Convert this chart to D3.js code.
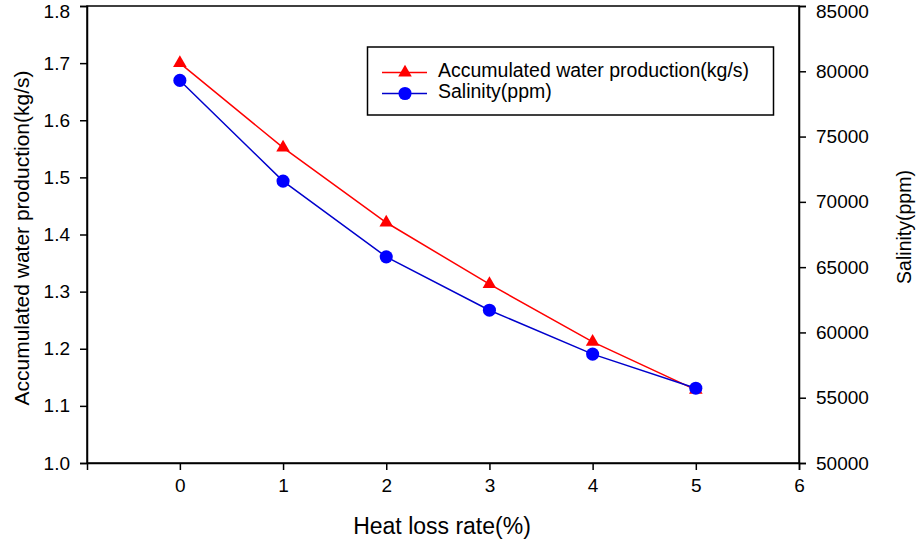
<!DOCTYPE html>
<html><head><meta charset="utf-8">
<script src="https://cdn.jsdelivr.net/npm/d3@7/dist/d3.min.js"></script>
<style>body{margin:0;background:#fff}svg{display:block}text{font-family:"Liberation Sans",Arial,sans-serif;fill:#000}</style>
</head><body><svg id="c" width="918" height="539"></svg>
<script>
const heatLoss = [0, 1, 2, 3, 4, 5];
const waterProduction = [1.70, 1.552, 1.421, 1.313, 1.212, 1.128];
const salinity = [79300, 71590, 65790, 61700, 58340, 55730];
const xTicks = [0, 1, 2, 3, 4, 5, 6];
const leftTicks = [1.0, 1.1, 1.2, 1.3, 1.4, 1.5, 1.6, 1.7, 1.8];
const rightTicks = [50000, 55000, 60000, 65000, 70000, 75000, 80000, 85000];
const seriesNames = ["Accumulated water production(kg/s)", "Salinity(ppm)"];

const svg = d3.select("#c");
const L = 87, R = 799, T = 6, B = 463;
const x = d3.scaleLinear().domain([-0.9, 6]).range([L, R]);
const yL = d3.scaleLinear().domain([1.0, 1.8]).range([B, T]);
const yR = d3.scaleLinear().domain([50000, 85000]).range([B, T]);

const fs = 19;
// frame
svg.append("rect").attr("x", L).attr("y", T).attr("width", R - L).attr("height", B - T)
  .attr("fill", "none").attr("stroke", "#000").attr("stroke-width", 1.5);

const gx = svg.append("g").attr("transform", `translate(0,${B})`)
  .call(d3.axisBottom(x).tickValues(xTicks).tickFormat(d3.format("d")).tickSize(7).tickPadding(9));
const gl = svg.append("g").attr("transform", `translate(${L},0)`)
  .call(d3.axisLeft(yL).tickValues(leftTicks).tickFormat(d3.format(".1f")).tickSize(7).tickPadding(10));
const gr = svg.append("g").attr("transform", `translate(${R},0)`)
  .call(d3.axisRight(yR).tickValues(rightTicks).tickFormat(d3.format("d")).tickSize(7).tickPadding(10));
[gx, gl, gr].forEach(g => {
  g.select(".domain").attr("stroke-width", 1.5);
  g.selectAll(".tick line").attr("stroke-width", 1.5);
  g.selectAll(".tick text").attr("font-size", fs).attr("font-family", "Liberation Sans, Arial, sans-serif");
});
gl.selectAll(".tick text").filter(d => d === 1.8).attr("dy", "0.6em");
gr.selectAll(".tick text").filter(d => d === 85000).attr("dy", "0.6em");

// axis titles
svg.append("text").attr("x", 442).attr("y", 534).attr("text-anchor", "middle")
  .attr("font-size", 23).text("Heat loss rate(%)");
svg.append("text").attr("transform", `translate(29,238) rotate(-90)`).attr("text-anchor", "middle")
  .attr("font-size", 21).text("Accumulated water production(kg/s)");
svg.append("text").attr("transform", `translate(911,227) rotate(-90)`).attr("text-anchor", "middle")
  .attr("font-size", 19.5).text("Salinity(ppm)");

const red = "#ff0000", blue = "#0000ff", blueLine = "#0000cc";
const tri = d3.symbol().type(d3.symbolTriangle).size(80);
const circ = d3.symbol().type(d3.symbolCircle).size(135);

const waterData = heatLoss.map((h, i) => [h, waterProduction[i]]);
const salData = heatLoss.map((h, i) => [h, salinity[i]]);

svg.append("path").datum(waterData).attr("fill", "none").attr("stroke", red).attr("stroke-width", 1.5)
  .attr("d", d3.line().x(d => x(d[0])).y(d => yL(d[1])));
svg.selectAll(".tri").data(waterData).join("path").attr("class", "tri")
  .attr("transform", d => `translate(${x(d[0])},${yL(d[1])})`).attr("d", tri).attr("fill", red);

svg.append("path").datum(salData).attr("fill", "none").attr("stroke", blueLine).attr("stroke-width", 1.5)
  .attr("d", d3.line().x(d => x(d[0])).y(d => yR(d[1])));
svg.selectAll(".cir").data(salData).join("path").attr("class", "cir")
  .attr("transform", d => `translate(${x(d[0])},${yR(d[1])})`).attr("d", circ).attr("fill", blue);

// legend
const lg = svg.append("g");
lg.append("rect").attr("x", 367.5).attr("y", 47).attr("width", 406).attr("height", 68)
  .attr("fill", "#fff").attr("stroke", "#000").attr("stroke-width", 1.5);
const rows = [{name: seriesNames[0], color: red, line: red, sym: tri, y: 72.5},
              {name: seriesNames[1], color: blue, line: blueLine, sym: circ, y: 93.5}];
rows.forEach(r => {
  lg.append("line").attr("x1", 382).attr("x2", 427).attr("y1", r.y).attr("y2", r.y)
    .attr("stroke", r.line).attr("stroke-width", 1.5);
  lg.append("path").attr("d", r.sym).attr("transform", `translate(405,${r.y})`).attr("fill", r.color);
  lg.append("text").attr("x", 438).attr("y", r.y + 4.5).attr("font-size", 19.5).text(r.name);
});
</script></body></html>
